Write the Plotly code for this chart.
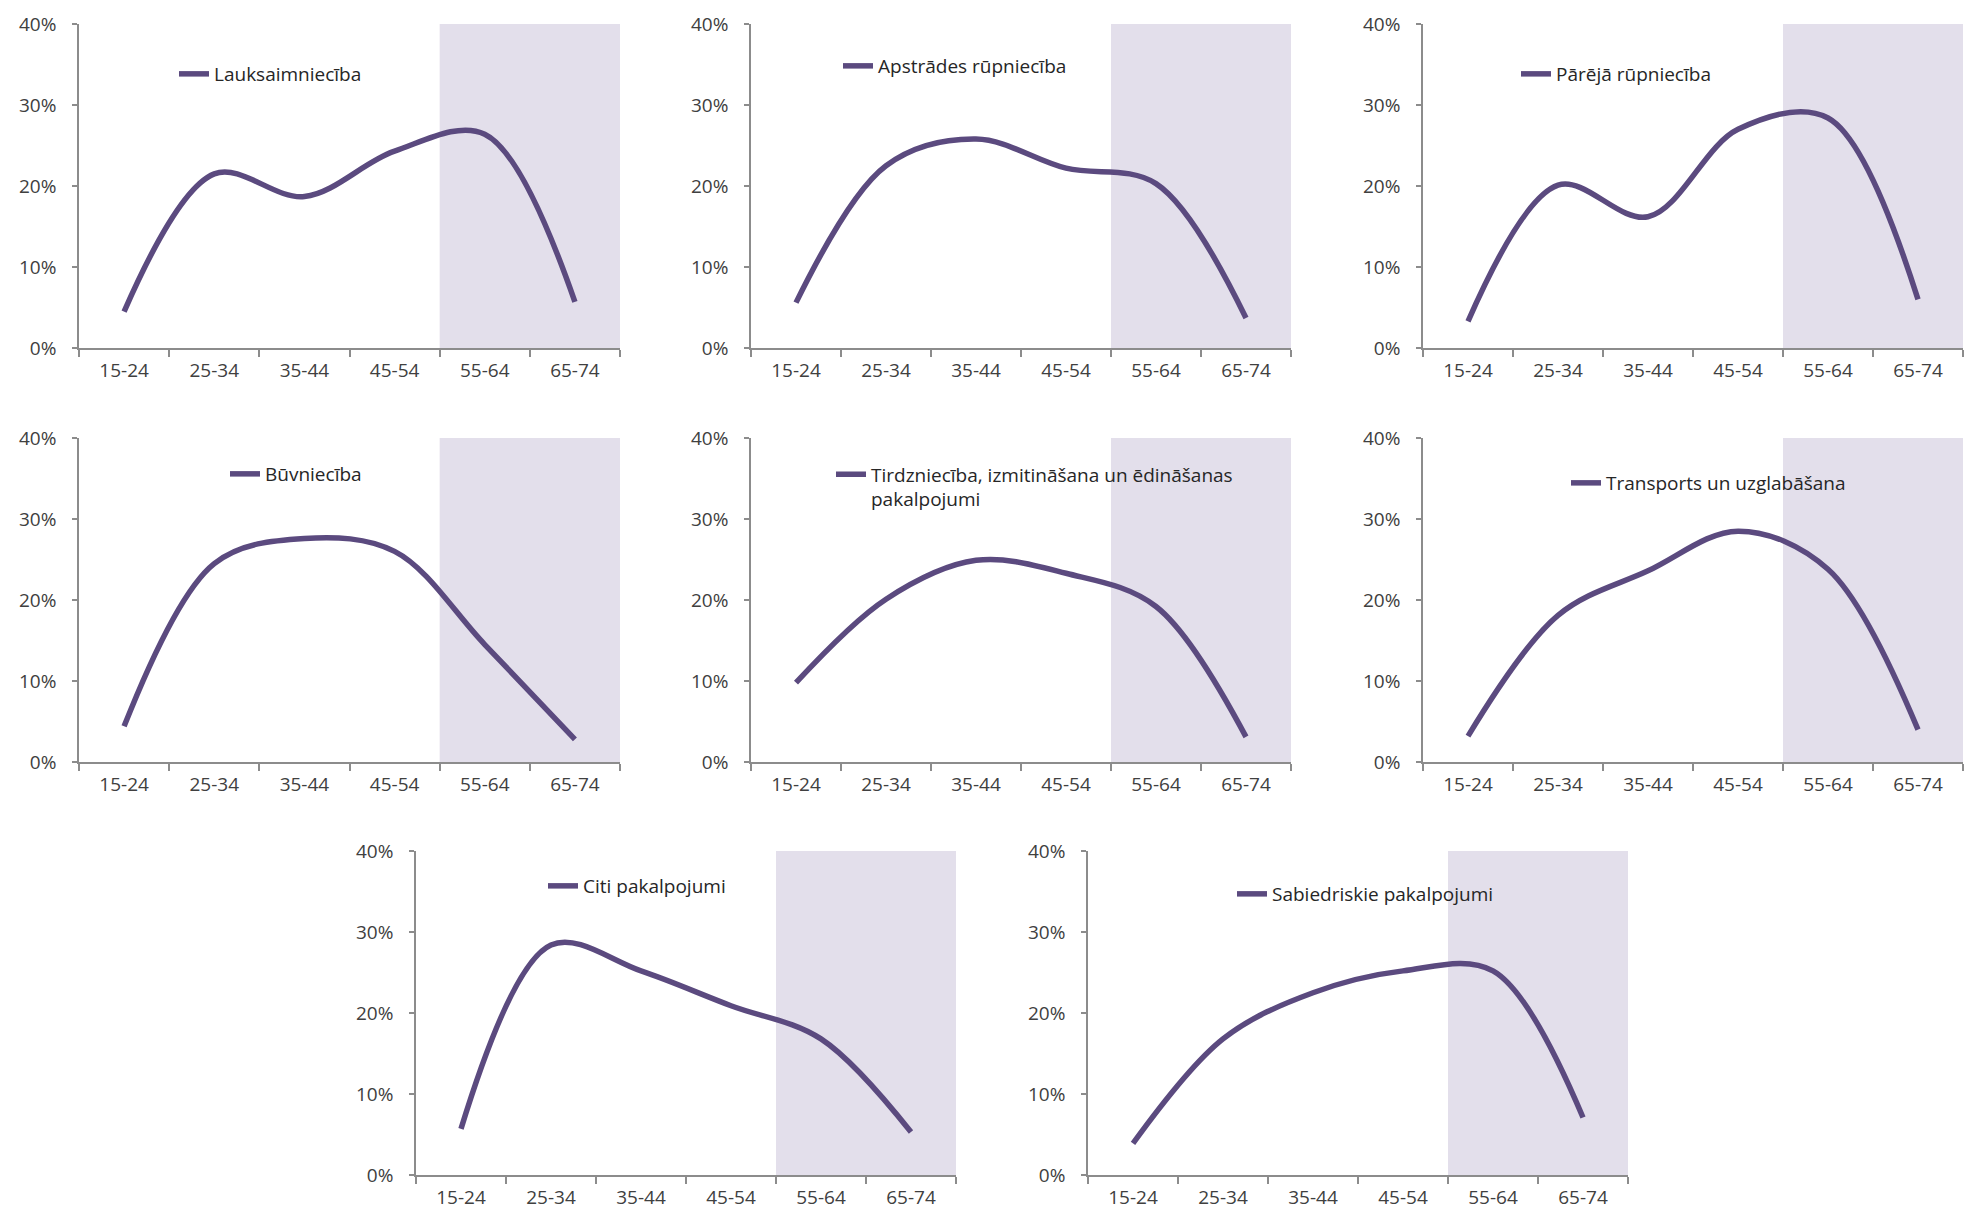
import plotly.graph_objects as go

# age groups on the x axis
vecuma_grupas = ["15-24", "25-34", "35-44", "45-54", "55-64", "65-74"]
iezimetas_grupas = ["55-64", "65-74"]

# share of employed by age group, %
lauksaimnieciba = [4.5, 21.5, 18.7, 24.3, 26.4, 5.7]
apstrades_rupnieciba = [5.6, 22.5, 25.8, 22.2, 20.3, 3.7]
pareja_rupnieciba = [3.3, 20.1, 16.2, 27.0, 28.4, 6.0]
buvnieciba = [4.4, 24.5, 27.6, 26.0, 14.5, 2.8]
tirdznieciba = [9.8, 20.1, 24.9, 23.3, 19.2, 3.1]
transports = [3.2, 18.1, 23.6, 28.5, 23.8, 4.0]
citi_pakalpojumi = [5.7, 28.4, 25.2, 20.9, 16.8, 5.3]
sabiedriskie_pakalpojumi = [3.9, 16.8, 22.5, 25.2, 25.2, 7.1]

nozares = [
    ("Lauksaimniecība", lauksaimnieciba),
    ("Apstrādes rūpniecība", apstrades_rupnieciba),
    ("Pārējā rūpniecība", pareja_rupnieciba),
    ("Būvniecība", buvnieciba),
    ("Tirdzniecība, izmitināšana un ēdināšanas<br>pakalpojumi", tirdznieciba),
    ("Transports un uzglabāšana", transports),
    ("Citi pakalpojumi", citi_pakalpojumi),
    ("Sabiedriskie pakalpojumi", sabiedriskie_pakalpojumi),
]

W, H = 1977, 1216
OFF = 8  # page body margin
LINE = "#5b4a7f"
SHADE = "#e3dfeb"
AXIS = "#8c8c8c"
FONT = "Open Sans, Segoe UI, sans-serif"

# panel placement in page pixels: (left, right, top, bottom)
panels = [
    (79, 620, 24, 348), (751, 1291, 24, 348), (1423, 1963, 24, 348),
    (79, 620, 438, 762), (751, 1291, 438, 762), (1423, 1963, 438, 762),
    (416, 956, 851, 1175), (1088, 1628, 851, 1175),
]
# legend text start x, legend line y (page pixels)
legend_pos = [
    (214, 74), (878, 66), (1556, 74),
    (265, 474), (871, 487), (1606, 483),
    (583, 886), (1272, 894),
]


def px(v, total):
    return (v - OFF) / total


fig = go.Figure()
layout = {}
shapes = []
sh0 = vecuma_grupas.index(iezimetas_grupas[0]) - 0.5
sh1 = vecuma_grupas.index(iezimetas_grupas[-1]) + 0.5

for i, ((name, vals), (l, r, t, b), (lx, ly)) in enumerate(zip(nozares, panels, legend_pos)):
    n = "" if i == 0 else str(i + 1)
    lg = "legend" + n
    fig.add_trace(go.Scatter(
        x=vecuma_grupas, y=vals, name=name, mode="lines",
        line=dict(color=LINE, width=5.5, shape="spline", smoothing=1.0),
        xaxis="x" + n, yaxis="y" + n, legend=lg, showlegend=True,
        hovertemplate="%{x}: %{y}%<extra></extra>",
    ))
    layout["xaxis" + n] = dict(
        domain=[px(l, W), px(r, W)], anchor="y" + n, type="category",
        range=[-0.5, len(vecuma_grupas) - 0.5], tickson="boundaries",
        ticks="outside", ticklen=7, tickcolor=AXIS, tickwidth=1.5,
        showline=True, linecolor=AXIS, linewidth=1.5, showgrid=False,
        tickfont=dict(family=FONT, size=19, color="#404040"),
        ticklabelstandoff=4, fixedrange=True, automargin=False,
    )
    layout["yaxis" + n] = dict(
        domain=[1 - px(b, H), 1 - px(t, H)], anchor="x" + n,
        range=[0, 40], dtick=10, ticksuffix="%",
        ticks="outside", ticklen=5, tickcolor=AXIS, tickwidth=1.5,
        showline=True, linecolor=AXIS, linewidth=1.5, showgrid=False,
        zeroline=False, tickfont=dict(family=FONT, size=19, color="#404040"),
        ticklabelstandoff=12, fixedrange=True, automargin=False,
    )
    layout[lg] = dict(
        x=px(lx - 40, W), y=1 - px(ly, H), xanchor="left", yanchor="middle",
        bgcolor="rgba(0,0,0,0)", borderwidth=0, valign="top",
        font=dict(family=FONT, size=19, color="#262626"),
    )
    shapes.append(dict(
        type="rect", xref="x" + n, yref="y" + n + " domain",
        x0=sh0, x1=sh1, y0=0, y1=1, fillcolor=SHADE,
        line=dict(width=0), layer="below",
    ))

fig.update_layout(
    width=W, height=H,
    margin=dict(l=0, r=0, t=0, b=0, pad=0, autoexpand=False),
    paper_bgcolor="white", plot_bgcolor="white",
    shapes=shapes, **layout,
)

fig.write_html("out.html")
